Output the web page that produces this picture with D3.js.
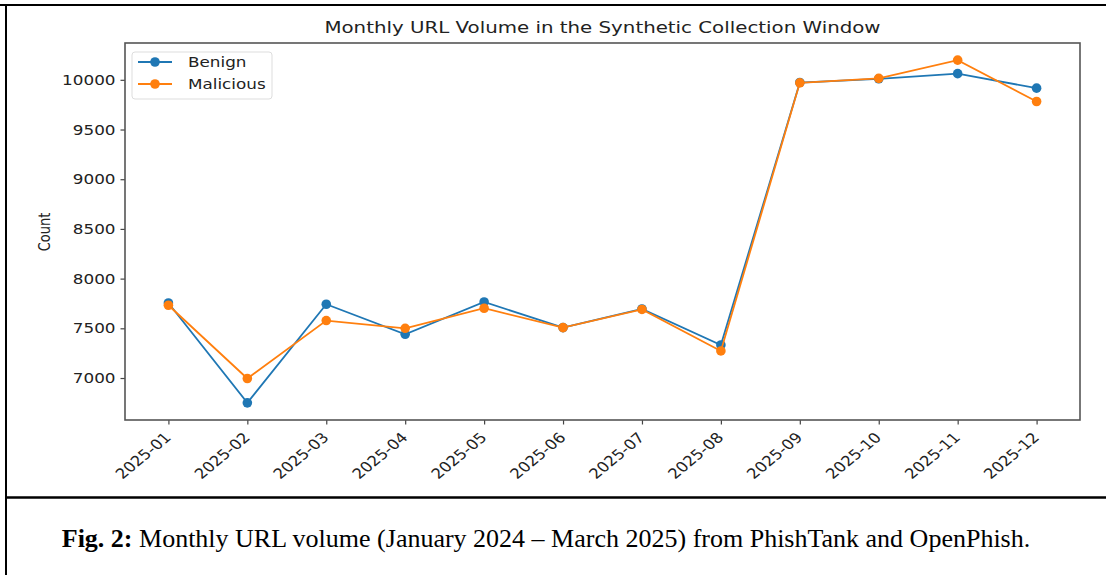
<!DOCTYPE html>
<html>
<head>
<meta charset="utf-8">
<script src="https://cdn.jsdelivr.net/npm/d3@7"></script>
<style>
  html, body { margin: 0; padding: 0; background: #fff; }
  svg { display: block; }
  .tick text { font-family: "DejaVu Sans", sans-serif; fill: #222; }
</style>
</head>
<body>
<svg id="fig" width="1106" height="575"></svg>
<script>
// Monthly counts per class
const months = ["2025-01","2025-02","2025-03","2025-04","2025-05","2025-06",
                "2025-07","2025-08","2025-09","2025-10","2025-11","2025-12"];
const benign    = [7755, 6750, 7742, 7440, 7765, 7507, 7695, 7332, 9973, 10010, 10062, 9916];
const malicious = [7732, 6995, 7578, 7500, 7702, 7507, 7690, 7272, 9970, 10015, 10198, 9782];
const yTicks = [7000, 7500, 8000, 8500, 9000, 9500, 10000];
const seriesNames = ["Benign", "Malicious"];
const seriesColors = ["#1f77b4", "#ff7f0e"];

// the figure is drawn with text widened horizontally
const SX = 1.2;

const svg = d3.select("#fig");

// outer frame and caption divider
svg.append("line").attr("x1", 0).attr("x2", 1106).attr("y1", 5).attr("y2", 5)
  .attr("stroke", "#000").attr("stroke-width", 2);
svg.append("line").attr("x1", 6).attr("x2", 6).attr("y1", 4).attr("y2", 575)
  .attr("stroke", "#000").attr("stroke-width", 2);
svg.append("line").attr("x1", 6).attr("x2", 1106).attr("y1", 497.5).attr("y2", 497.5)
  .attr("stroke", "#000").attr("stroke-width", 2.5);

const plot = { left: 125, right: 1080, top: 43, bottom: 420 };

const x = d3.scalePoint().domain(months).range([plot.left, plot.right]).padding(0.55);
const all = benign.concat(malicious);
const lo = d3.min(all), hi = d3.max(all), pad = (hi - lo) * 0.05;
const y = d3.scaleLinear().domain([lo - pad, hi + pad]).range([plot.bottom, plot.top]);

// axes
const yAxis = svg.append("g").attr("transform", `translate(${plot.left},0)`)
  .call(d3.axisLeft(y).tickValues(yTicks).tickFormat(d3.format("d")).tickSize(4.5).tickPadding(4));
yAxis.selectAll(".tick text")
  .style("font-size", "14px")
  .attr("x", -9.5 / SX)
  .attr("transform", `scale(${SX},1)`);

const xAxis = svg.append("g").attr("transform", `translate(0,${plot.bottom})`)
  .call(d3.axisBottom(x).tickSize(4.5).tickPadding(3));
xAxis.selectAll(".tick text")
  .style("font-size", "14px")
  .attr("text-anchor", "end")
  .attr("x", 0).attr("y", 0)
  .attr("dy", "0.35em")
  .attr("transform", `translate(-1,15) scale(${SX},1) rotate(-45)`);

[yAxis, xAxis].forEach(g => {
  g.select(".domain").remove();
  g.selectAll(".tick line").attr("stroke", "#444").attr("stroke-width", 1.2);
});

// plot frame
svg.append("rect")
  .attr("x", plot.left).attr("y", plot.top)
  .attr("width", plot.right - plot.left).attr("height", plot.bottom - plot.top)
  .attr("fill", "none").attr("stroke", "#555").attr("stroke-width", 1.6);

// series
const line = d3.line().x((d, i) => x(months[i])).y(d => y(d));
[benign, malicious].forEach((vals, k) => {
  const g = svg.append("g");
  g.append("path").datum(vals).attr("d", line)
    .attr("fill", "none").attr("stroke", seriesColors[k]).attr("stroke-width", 1.8);
  g.selectAll("circle").data(vals).join("circle")
    .attr("cx", (d, i) => x(months[i])).attr("cy", d => y(d))
    .attr("r", 4.8).attr("fill", seriesColors[k]);
});

// legend
const lg = svg.append("g").attr("transform", "translate(132,52)");
lg.append("rect").attr("width", 140).attr("height", 47).attr("rx", 3)
  .attr("fill", "#fff").attr("fill-opacity", 0.8).attr("stroke", "#ddd");
seriesNames.forEach((name, k) => {
  const row = lg.append("g").attr("transform", `translate(0,${10 + k * 22})`);
  row.append("line").attr("x1", 6).attr("x2", 40).attr("y1", 0).attr("y2", 0)
    .attr("stroke", seriesColors[k]).attr("stroke-width", 1.8);
  row.append("circle").attr("cx", 23).attr("cy", 0).attr("r", 4.8).attr("fill", seriesColors[k]);
  row.append("text").attr("x", 56 / SX).attr("y", 0).attr("dy", "0.35em")
    .attr("transform", `scale(${SX},1)`)
    .style("font-family", "DejaVu Sans, sans-serif").style("font-size", "14px").attr("fill", "#222")
    .text(name);
});

// title
svg.append("text")
  .attr("x", (plot.left + plot.right) / 2 / SX).attr("y", 33)
  .attr("transform", `scale(${SX},1)`)
  .attr("text-anchor", "middle")
  .style("font-family", "DejaVu Sans, sans-serif").style("font-size", "16.5px").attr("fill", "#222")
  .text("Monthly URL Volume in the Synthetic Collection Window");

// y label
svg.append("text").attr("transform", `translate(50,232) scale(${SX},1) rotate(-90)`)
  .attr("text-anchor", "middle")
  .style("font-family", "DejaVu Sans, sans-serif").style("font-size", "13px").attr("fill", "#222")
  .text("Count");

// caption
const cap = svg.append("text").attr("x", 546).attr("y", 547).attr("text-anchor", "middle")
  .style("font-family", "Liberation Serif, Times New Roman, serif").style("font-size", "26px")
  .attr("fill", "#000");
cap.append("tspan").style("font-weight", "bold").text("Fig. 2:");
cap.append("tspan").text(" Monthly URL volume (January 2024 \u2013 March 2025) from PhishTank and OpenPhish.");
</script>
</body>
</html>
